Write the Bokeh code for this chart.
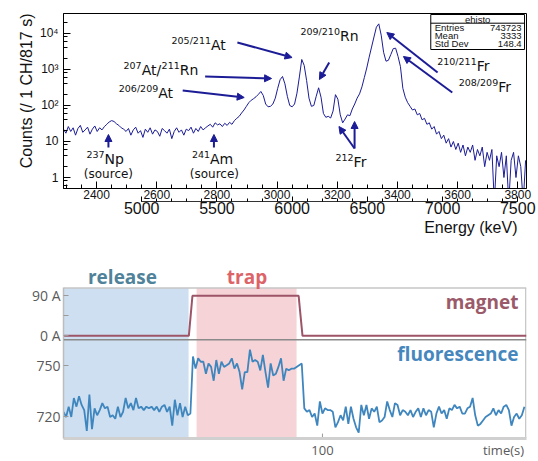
import math
from bokeh.plotting import figure
from bokeh.models import (Range1d, LinearAxis, SingleIntervalTicker, FixedTicker, LogTicker,
                          Arrow, NormalHead, Label, BoxAnnotation, Span, Title, CustomJSTickFormatter)
from bokeh.layouts import column
from bokeh.embed import file_html
from bokeh.resources import INLINE
from bokeh.core.properties import value

# ---------------- top panel data (alpha spectrum) ----------------
channel_start = 2290
channel_step = 8
counts = [
    22, 17, 26, 19, 24, 15, 23, 28, 18, 21, 25, 16, 22, 27, 19, 24, 21,
    26, 30, 35, 38, 36, 31, 28, 24, 22,
    19, 23, 15, 21, 25, 17, 20, 13, 22, 18, 24, 16, 21, 19, 14, 23, 20, 17, 22, 12,
    19, 24, 18, 21, 15, 22, 20, 25, 17, 23, 19, 26, 21, 24,
    27, 30, 25, 33, 29, 31, 26, 32, 28, 34, 30,
    38, 44, 50, 62, 75, 95, 120, 140, 155, 175, 205, 245, 190, 110, 92, 95, 110, 160,
    300, 520, 640, 400, 180, 100, 92, 110, 220, 620, 1900, 1300, 500, 160, 95, 100,
    180, 310, 170, 60, 47, 50, 45, 70, 200, 150, 55, 33, 42, 55, 52, 80, 110, 160,
    210, 330, 600, 1100, 2200, 4200, 8000, 15000, 18500, 9000, 3000, 1700, 1800, 2600,
    3800, 3900, 2300, 1200, 300, 170, 120, 95, 75, 80, 55, 60, 40, 44, 30, 33, 22, 26,
    16, 19, 12, 15, 9, 12, 7, 10, 6, 9, 5, 8, 4, 7, 5, 8, 3, 6, 4, 7, 2, 5, 3, 6,
    0, 4, 2, 5, 1, 4, 0, 3, 5, 1, 4, 2, 0, 3,
]
channels = [channel_start + channel_step * i for i in range(len(counts))]

channel_tick_step = 200
energy_cal_ch = 2550          # channel of 5000 keV
energy_cal_keV = 5000
energy_per_ch = 2.0
energy_tick_step = 500
energy_bounds = (5000, 7500)

y_tick_values = [1, 10, 100, 1000, 10000]
y_tick_labels = ["1", "10", "10\u00b2", "10\u00b3", "10\u2074"]

stats_title = "ehisto"
stats_names = ["Entries", "Mean", "Std Dev"]
stats_values = ["743723", "3333", "148.4"]

peak_sup = ["205/211", "207", "211", "206/209", "209/210", "210/211", "208/209", "212", "237", "241"]
peak_main = ["At", "At/", "Rn", "At", "Rn", "Fr", "Fr", "Fr", "Np", "Am"]

# ---------------- bottom panel data (magnet / fluorescence) ----------------
fluorescence = [
    723, 720, 726, 720, 731, 726, 732, 727, 724, 712,
    733, 713, 725, 721, 724, 728, 725, 726, 720, 721,
    719, 726, 720, 723, 731, 725, 728, 724, 731, 725,
    726, 724, 726, 725, 726, 724, 726, 723, 726, 727,
    723, 726, 715, 730, 721, 728, 720, 726, 721,
    722,
    755, 748, 754, 752, 752, 745, 751, 749, 741, 753,
    745, 752, 749, 750, 751, 754, 748, 751, 746, 736,
    746, 746, 759, 752, 753, 752, 747, 756, 746, 737,
    751, 744, 745, 749, 754, 741, 748, 747, 748, 748,
    749, 750, 751,
    725, 723, 724, 720, 722, 715, 729, 722, 725, 724,
    724, 723, 714, 717, 721, 718, 726, 716, 726, 719,
    714, 711, 727, 721, 727, 719, 725, 723, 726, 717,
    718, 720, 729, 724, 720, 728, 727, 721, 724, 723,
    721, 724, 720, 723, 725, 720, 725, 721, 724,
    723, 714, 722, 726, 722, 724, 719, 725, 724, 727,
    725, 726, 722, 722, 725, 726, 731, 721, 715, 716,
    718, 720, 721, 722, 725, 721, 724, 722, 726, 727,
    724, 715, 720, 722, 719, 721, 726,
]
time_s = list(range(len(fluorescence)))
magnet_t = [0, 48.4, 49.8, 90.8, 92.3, 178.8]
magnet_A = [0, 0, 90, 90, 0, 0]
release_span = (0, 48.3)
trap_span = (51.4, 90.0)
flu_ticks = [720, 750]
mag_ticks = [0, 90]
mag_minor = [45]
time_ticks = [100]
time_tick_labels = ["100"]
time_label = "time(s)"

# ======================= TOP FIGURE =======================
NAVY = "#1c1c96"
XR = (2290.0, 3829.0)
YR = (0.495, 35900.0)
FX0, FX1, FY0, FY1 = 55, 529, 13, 188   # frame edges in window px


def tx(px):
    return XR[0] + (px - FX0) / (FX1 - FX0) * (XR[1] - XR[0])


def ty(py):
    l0, l1 = math.log10(YR[0]), math.log10(YR[1])
    return 10 ** (l1 - (py - FY0) / (FY1 - FY0) * (l1 - l0))


top = figure(width=538, height=258, x_range=Range1d(*XR), y_range=Range1d(*YR),
             y_axis_type="log", output_backend="svg", toolbar_location=None,
             min_border_left=55, min_border_right=9, min_border_top=13, min_border_bottom=70)
top.grid.grid_line_color = None
top.outline_line_color = "black"
top.outline_line_width = 1

plot_counts = [c if c > 0 else 0.2 for c in counts]
top.line(channels, plot_counts, line_color=NAVY, line_width=1)

xa = top.xaxis[0]
xa.ticker = SingleIntervalTicker(interval=channel_tick_step, num_minor_ticks=4)
xa.major_tick_in, xa.major_tick_out = 7, 0
xa.minor_tick_in, xa.minor_tick_out = 4, 0
xa.major_label_text_font = "Liberation Sans"
xa.major_label_text_font_size = "12px"
xa.major_label_text_color = "#111111"
xa.major_label_standoff = 1
xa.axis_line_color = "black"

ya = top.yaxis[0]
ya.ticker = LogTicker()
ya.formatter = CustomJSTickFormatter(args=dict(vals=y_tick_values, labs=y_tick_labels), code="""
for (let i = 0; i < vals.length; i++) { if (Math.abs(tick - vals[i]) < 1e-6 * vals[i]) return labs[i]; }
return "";
""")
ya.major_tick_in, ya.major_tick_out = 7, 0
ya.minor_tick_in, ya.minor_tick_out = 4, 0
ya.major_label_text_font = "Liberation Sans"
ya.major_label_text_font_size = "12px"
ya.major_label_text_color = "#111111"
ya.major_label_standoff = 5
ya.axis_line_color = "black"

top.add_layout(Title(text="Counts (/ 1 CH/817 s)", align="right", text_font="Liberation Sans",
                     text_font_style="normal", text_font_size="16px", text_color="#111111",
                     standoff=3), "left")

# energy axis
def ch2e(c):
    return energy_cal_keV + energy_per_ch * (c - energy_cal_ch)

top.extra_x_ranges = {"energy": Range1d(ch2e(XR[0]), ch2e(XR[1]))}
ea = LinearAxis(x_range_name="energy", bounds=energy_bounds,
                ticker=SingleIntervalTicker(interval=energy_tick_step, num_minor_ticks=5))
ea.major_tick_in, ea.major_tick_out = 5, 0
ea.minor_tick_in, ea.minor_tick_out = 3, 0
ea.major_label_text_font = "Liberation Sans"
ea.major_label_text_font_size = "16px"
ea.major_label_text_color = "#111111"
ea.major_label_standoff = 0
ea.axis_line_color = "#333333"
top.add_layout(ea, "below")

top.add_layout(Title(text="Energy (keV)", align="right", offset=9, standoff=0,
                     text_font="Liberation Sans", text_font_style="normal",
                     text_font_size="16px", text_color="#111111"), "below")

# peak labels: superscript + main text, positions in window px
label_pos = [(206, 44), (135, 69), (174, 69), (152, 92), (338, 35),
             (478, 65), (500, 86), (352, 161), (97, 158), (205, 158)]
top.text(x=[tx(p[0]) for p in label_pos], y=[ty(p[1] - 4) for p in label_pos], text=peak_sup,
         text_font=value("DejaVu Sans"), text_font_size="9.5px", text_align="right",
         text_baseline="middle", text_color="#111111")
top.text(x=[tx(p[0]) for p in label_pos], y=[ty(p[1]) for p in label_pos], text=peak_main,
         text_font=value("DejaVu Sans"), text_font_size="14px", text_align="left",
         text_baseline="middle", text_color="#111111")
top.text(x=[tx(101), tx(209.5)], y=[ty(173), ty(173)], text=["(source)", "(source)"],
         text_font=value("DejaVu Sans"), text_font_size="12px", text_align="center",
         text_baseline="middle", text_color="#111111")

arrows_px = [(233, 42, 289, 57), (200, 76, 268, 78), (177, 90, 240, 97), (327, 62, 317, 79),
             (438, 72, 386, 32), (453, 92, 403, 56), (353, 148, 353, 121), (353, 148, 337, 126),
             (101, 147, 101, 134), (209, 147, 209, 134)]
for (x0, y0, x1, y1) in arrows_px:
    top.add_layout(Arrow(end=NormalHead(size=7, fill_color=NAVY, line_color=NAVY),
                         x_start=tx(x0), y_start=ty(y0), x_end=tx(x1), y_end=ty(y1),
                         line_color=NAVY, line_width=2))

# stats box
top.quad(left=[tx(431)], right=[tx(527)], top=[ty(14)], bottom=[ty(49)],
         fill_color="white", line_color="black", line_width=1)
top.segment(x0=[tx(431)], y0=[ty(22.7)], x1=[tx(527)], y1=[ty(22.7)], line_color="black", line_width=1)
top.text(x=[tx(479)], y=[ty(18.5)], text=[stats_title], text_font=value("Liberation Sans"),
         text_font_size="9.5px", text_align="center", text_baseline="middle", text_color="#111111")
row_y = [27.3, 35.3, 43.3]
top.text(x=[tx(435)] * 3, y=[ty(v) for v in row_y], text=stats_names, text_font=value("Liberation Sans"),
         text_font_size="9.5px", text_align="left", text_baseline="middle", text_color="#111111")
top.text(x=[tx(524)] * 3, y=[ty(v) for v in row_y], text=stats_values, text_font=value("Liberation Sans"),
         text_font_size="9.5px", text_align="right", text_baseline="middle", text_color="#111111")

# ======================= BOTTOM FIGURE =======================
# frame spans window y 264..442 (box drawn 288..442), x 63..526
TR = (0.0, 178.8)
FR = (707.55, 808.30)
BOX_TOP = 794.72
MR = (-230.49, 160.24)

bot = figure(width=538, height=203, x_range=Range1d(*TR), y_range=Range1d(*FR),
             output_backend="svg", toolbar_location=None,
             min_border_left=63, min_border_right=12, min_border_top=6, min_border_bottom=19)
bot.extra_y_ranges = {"mag": Range1d(*MR)}
bot.grid.grid_line_color = None
bot.outline_line_color = None


def m2f(m):
    return FR[0] + (m - MR[0]) / (MR[1] - MR[0]) * (FR[1] - FR[0])


def t_of(px):
    return TR[0] + (px - 63) / (526 - 63) * (TR[1] - TR[0])


def f_of(py):
    return FR[1] - (py - 264) / (442 - 264) * (FR[1] - FR[0])


bot.add_layout(BoxAnnotation(left=release_span[0], right=release_span[1], bottom=FR[0], top=BOX_TOP,
                             fill_color="#cddff0", fill_alpha=1, line_color=None, level="underlay"))
bot.add_layout(BoxAnnotation(left=trap_span[0], right=trap_span[1], bottom=FR[0], top=BOX_TOP,
                             fill_color="#f5d3d6", fill_alpha=1, line_color=None, level="underlay"))

# panel box (top and right border)
bot.segment(x0=[TR[0], t_of(525.3)], y0=[BOX_TOP, BOX_TOP], x1=[TR[1], t_of(525.3)], y1=[BOX_TOP, FR[0]],
            line_color="#c6c6c6", line_width=1.5)
bot.add_layout(Span(location=f_of(341), dimension="width", line_color="#8a8a8a", line_width=1.3))
bot.line(magnet_t, magnet_A, y_range_name="mag", line_color="#9e5468", line_width=2)
bot.line(time_s, fluorescence, line_color="#3f86be", line_width=1.8)

ytick_vals = [float(v) for v in flu_ticks] + [m2f(m) for m in mag_ticks]
ytick_labs = [str(v) for v in flu_ticks] + [f"{m} A" for m in mag_ticks]
yb = bot.yaxis[0]
yb.bounds = (FR[0], BOX_TOP)
yb.ticker = FixedTicker(ticks=ytick_vals, minor_ticks=[m2f(m) for m in mag_minor])
yb.formatter = CustomJSTickFormatter(args=dict(vals=ytick_vals, labs=ytick_labs), code="""
for (let i = 0; i < vals.length; i++) { if (Math.abs(tick - vals[i]) < 1e-6) return labs[i]; }
return "";
""")
yb.major_tick_in, yb.major_tick_out = 5, 0
yb.minor_tick_in, yb.minor_tick_out = 5, 0
yb.major_tick_line_color = "#9a9a9a"
yb.minor_tick_line_color = "#9a9a9a"
yb.axis_line_color = "#bdbdbd"
yb.axis_line_width = 1.5
yb.major_label_text_font = "Open Sans"
yb.major_label_text_font_size = "14px"
yb.major_label_text_color = "#5a5a5a"
yb.major_label_standoff = 3

# x axis: tick label "100" plus the "time(s)" caption on the same line
time_label_pos = t_of(503)
xt_vals = [float(v) for v in time_ticks] + [time_label_pos]
xt_labs = time_tick_labels + [time_label]
xb = bot.xaxis[0]
xb.ticker = FixedTicker(ticks=xt_vals, minor_ticks=[])
xb.formatter = CustomJSTickFormatter(args=dict(vals=xt_vals, labs=xt_labs), code="""
for (let i = 0; i < vals.length; i++) { if (Math.abs(tick - vals[i]) < 1e-6) return labs[i]; }
return "";
""")
xb.major_tick_in, xb.major_tick_out = 0, 0
xb.axis_line_color = "#d0d0d0"
xb.axis_line_width = 3
xb.major_label_text_font = "Open Sans"
xb.major_label_text_font_size = "13px"
xb.major_label_text_color = "#5a5a5a"
xb.major_label_standoff = 2
bot.segment(x0=time_ticks, y0=[FR[0]] * len(time_ticks), x1=time_ticks, y1=[f_of(437)] * len(time_ticks),
            line_color="#9a9a9a", line_width=1)

for txt, xpx, ypx, col, align in [("release", 122, 277, "#50829a", "center"),
                                  ("trap", 246.5, 277, "#dc6469", "center"),
                                  ("magnet", 518, 302, "#9b5a69", "right"),
                                  ("fluorescence", 518, 356, "#4687be", "right")]:
    bot.add_layout(Label(x=t_of(xpx), y=f_of(ypx), text=txt, text_align=align, text_baseline="middle",
                         text_font="Open Sans", text_font_size="19px", text_font_style="bold",
                         text_color=col))

layout = column(top, bot)
open("out.html", "w").write(file_html(layout, INLINE))
